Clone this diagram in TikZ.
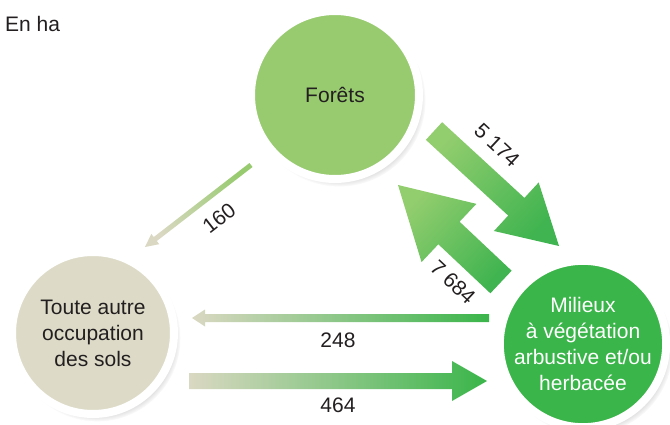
\documentclass[tikz,border=0pt]{standalone}
\usepackage{fontspec}
\setmainfont{Liberation Sans}
\usetikzlibrary{calc,shadows}

\definecolor{ink}{HTML}{231F20}
\definecolor{foretgreen}{HTML}{98CB70}
\definecolor{milieugreen}{HTML}{3AB54A}
\definecolor{autrebeige}{HTML}{DDDBC8}
\definecolor{fadebeige}{HTML}{DAD8C2}
\definecolor{arrowlight}{HTML}{92CD6E}
\definecolor{arrowdark}{HTML}{40B450}

% fat shaded arrow: style, from, to, shaft half width, head half width, head length
\newcommand{\fatarrow}[6]{%
  \path ($(#3)!#6!(#2)$) coordinate (hb);
  \shade[#1] ($(#2)!#4!90:(#3)$) -- ($(hb)!#4!90:(#3)$) -- ($(hb)!#5!90:(#3)$) -- (#3)
    -- ($(hb)!#5!-90:(#3)$) -- ($(hb)!#4!-90:(#3)$) -- ($(#2)!#4!-90:(#3)$) -- cycle;
}

\begin{document}
\begin{tikzpicture}[
    x=1pt, y=-1pt,
    every node/.style={font=\fontsize{21}{26}\selectfont, text=ink},
    bubble/.style={circle, draw=white, line width=8pt, align=center, inner sep=0pt,
      circular drop shadow={shadow xshift=4pt, shadow yshift=-5pt, shadow scale=1.03, opacity=.5}},
    num/.style={inner sep=0pt},
    beamh/.style={left color=fadebeige, right color=milieugreen},
    beamd/.style={top color=arrowlight, bottom color=arrowdark, shading angle=47},
    beamthin/.style={top color=foretgreen, bottom color=fadebeige, shading angle=-52}
]
\useasboundingbox (0,0) rectangle (670,425);
\node[num, anchor=west] (unit) at (5,24) {En ha};
\node[bubble, fill=foretgreen, minimum size=168pt] (foret) at (335,95) {Forêts};
\node[bubble, fill=autrebeige, minimum size=162pt] (autre) at (93,333) {Toute autre\\occupation\\des sols};
\node[bubble, fill=milieugreen, text=white, minimum size=162pt] (milieu) at (583,344) {Milieux\\à végétation\\arbustive et/ou\\herbacée};

% arrow ends
\coordinate (f2a-s) at (251,165);
\coordinate (f2a-e) at (145,247);
\coordinate (f2m-s) at (434,131);
\coordinate (f2m-e) at (559,246);
\coordinate (m2f-s) at (501,282);
\coordinate (m2f-e) at (398,185);
\coordinate (m2a-s) at (489,318);
\coordinate (m2a-e) at (192,318);
\coordinate (a2m-s) at (189,381);
\coordinate (a2m-e) at (487,381);

\fatarrow{beamthin}{f2a-s}{f2a-e}{2.5pt}{6.5pt}{13pt}
\fatarrow{beamd}{f2m-s}{f2m-e}{12pt}{33pt}{58pt}
\fatarrow{beamd}{m2f-s}{m2f-e}{15.5pt}{40pt}{70pt}
\fatarrow{beamh}{m2a-s}{m2a-e}{4pt}{8.5pt}{13pt}
\fatarrow{beamh}{a2m-s}{a2m-e}{8pt}{20pt}{35pt}

\node[num, rotate=38] (l160) at (219,218) {160};
\node[num, rotate=-43] (l5174) at (497,145) {5 174};
\node[num, rotate=-43] (l7684) at (453,282) {7 684};
\node[num] (l248) at (338,340) {248};
\node[num] (l464) at (338,405) {464};
\end{tikzpicture}
\end{document}
